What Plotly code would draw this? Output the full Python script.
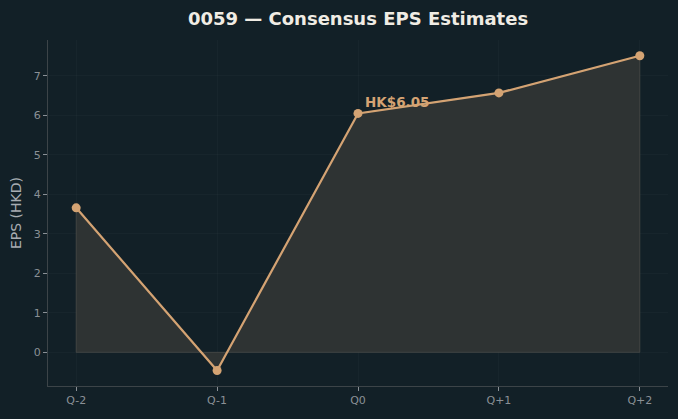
import plotly.graph_objects as go

categories = ["Q-2", "Q-1", "Q0", "Q+1", "Q+2"]
eps = [3.66, -0.46, 6.05, 6.57, 7.51]
y_ticks = [0, 1, 2, 3, 4, 5, 6, 7]

BG = "#122027"
LINE = "#d4a373"
FILL = "rgb(46,51,51)"

xi = list(range(len(categories)))
poly_x = [xi[0]] + xi + [xi[-1], xi[0]]
poly_y = [0] + eps + [0, 0]

fig = go.Figure()
fig.add_trace(go.Scatter(
    x=poly_x, y=poly_y, mode="lines", fill="toself",
    fillcolor=FILL, line=dict(color="rgba(85,85,80,0.6)", width=1),
    hoverinfo="skip", showlegend=False))
fig.add_trace(go.Scatter(
    x=xi, y=eps, mode="lines+markers",
    line=dict(color=LINE, width=2.2),
    marker=dict(color=LINE, size=9),
    showlegend=False))

fig.add_annotation(
    x=xi[2], y=eps[2], text="<b>HK$%.2f</b>" % eps[2],
    showarrow=False, xanchor="left", yanchor="middle",
    xshift=5, yshift=11,
    font=dict(color=LINE, size=13.5, family="DejaVu Sans"))

fig.update_layout(
    width=678, height=419,
    paper_bgcolor=BG, plot_bgcolor=BG,
    margin=dict(l=48, r=10, t=40, b=33),
    title=dict(text="<b>0059 — Consensus EPS Estimates</b>", x=0.5, xanchor="center",
               xref="paper", y=0.955, yanchor="middle",
               font=dict(color="#f0ece4", size=18, family="DejaVu Sans")),
    font=dict(family="DejaVu Sans", color="#8a9096", size=11),
    xaxis=dict(
        range=[-0.2, 4.2], tickvals=xi, ticktext=categories,
        showline=True, linecolor="#3c4448", linewidth=1,
        ticks="outside", ticklen=4, tickcolor="#8a9096",
        showgrid=True, gridcolor="rgba(255,255,255,0.025)", gridwidth=1,
        zeroline=False, tickfont=dict(size=11, color="#8a9096")),
    yaxis=dict(
        range=[-0.853, 7.91], tickvals=y_ticks,
        showline=True, linecolor="#3c4448", linewidth=1,
        ticks="outside", ticklen=4, tickcolor="#8a9096",
        showgrid=True, gridcolor="rgba(255,255,255,0.025)", gridwidth=1,
        zeroline=False, tickfont=dict(size=11, color="#8a9096"),
        title=dict(text="EPS (HKD)", font=dict(size=14, color="#a8adb2"), standoff=8)),
)

fig.write_html("out.html")
